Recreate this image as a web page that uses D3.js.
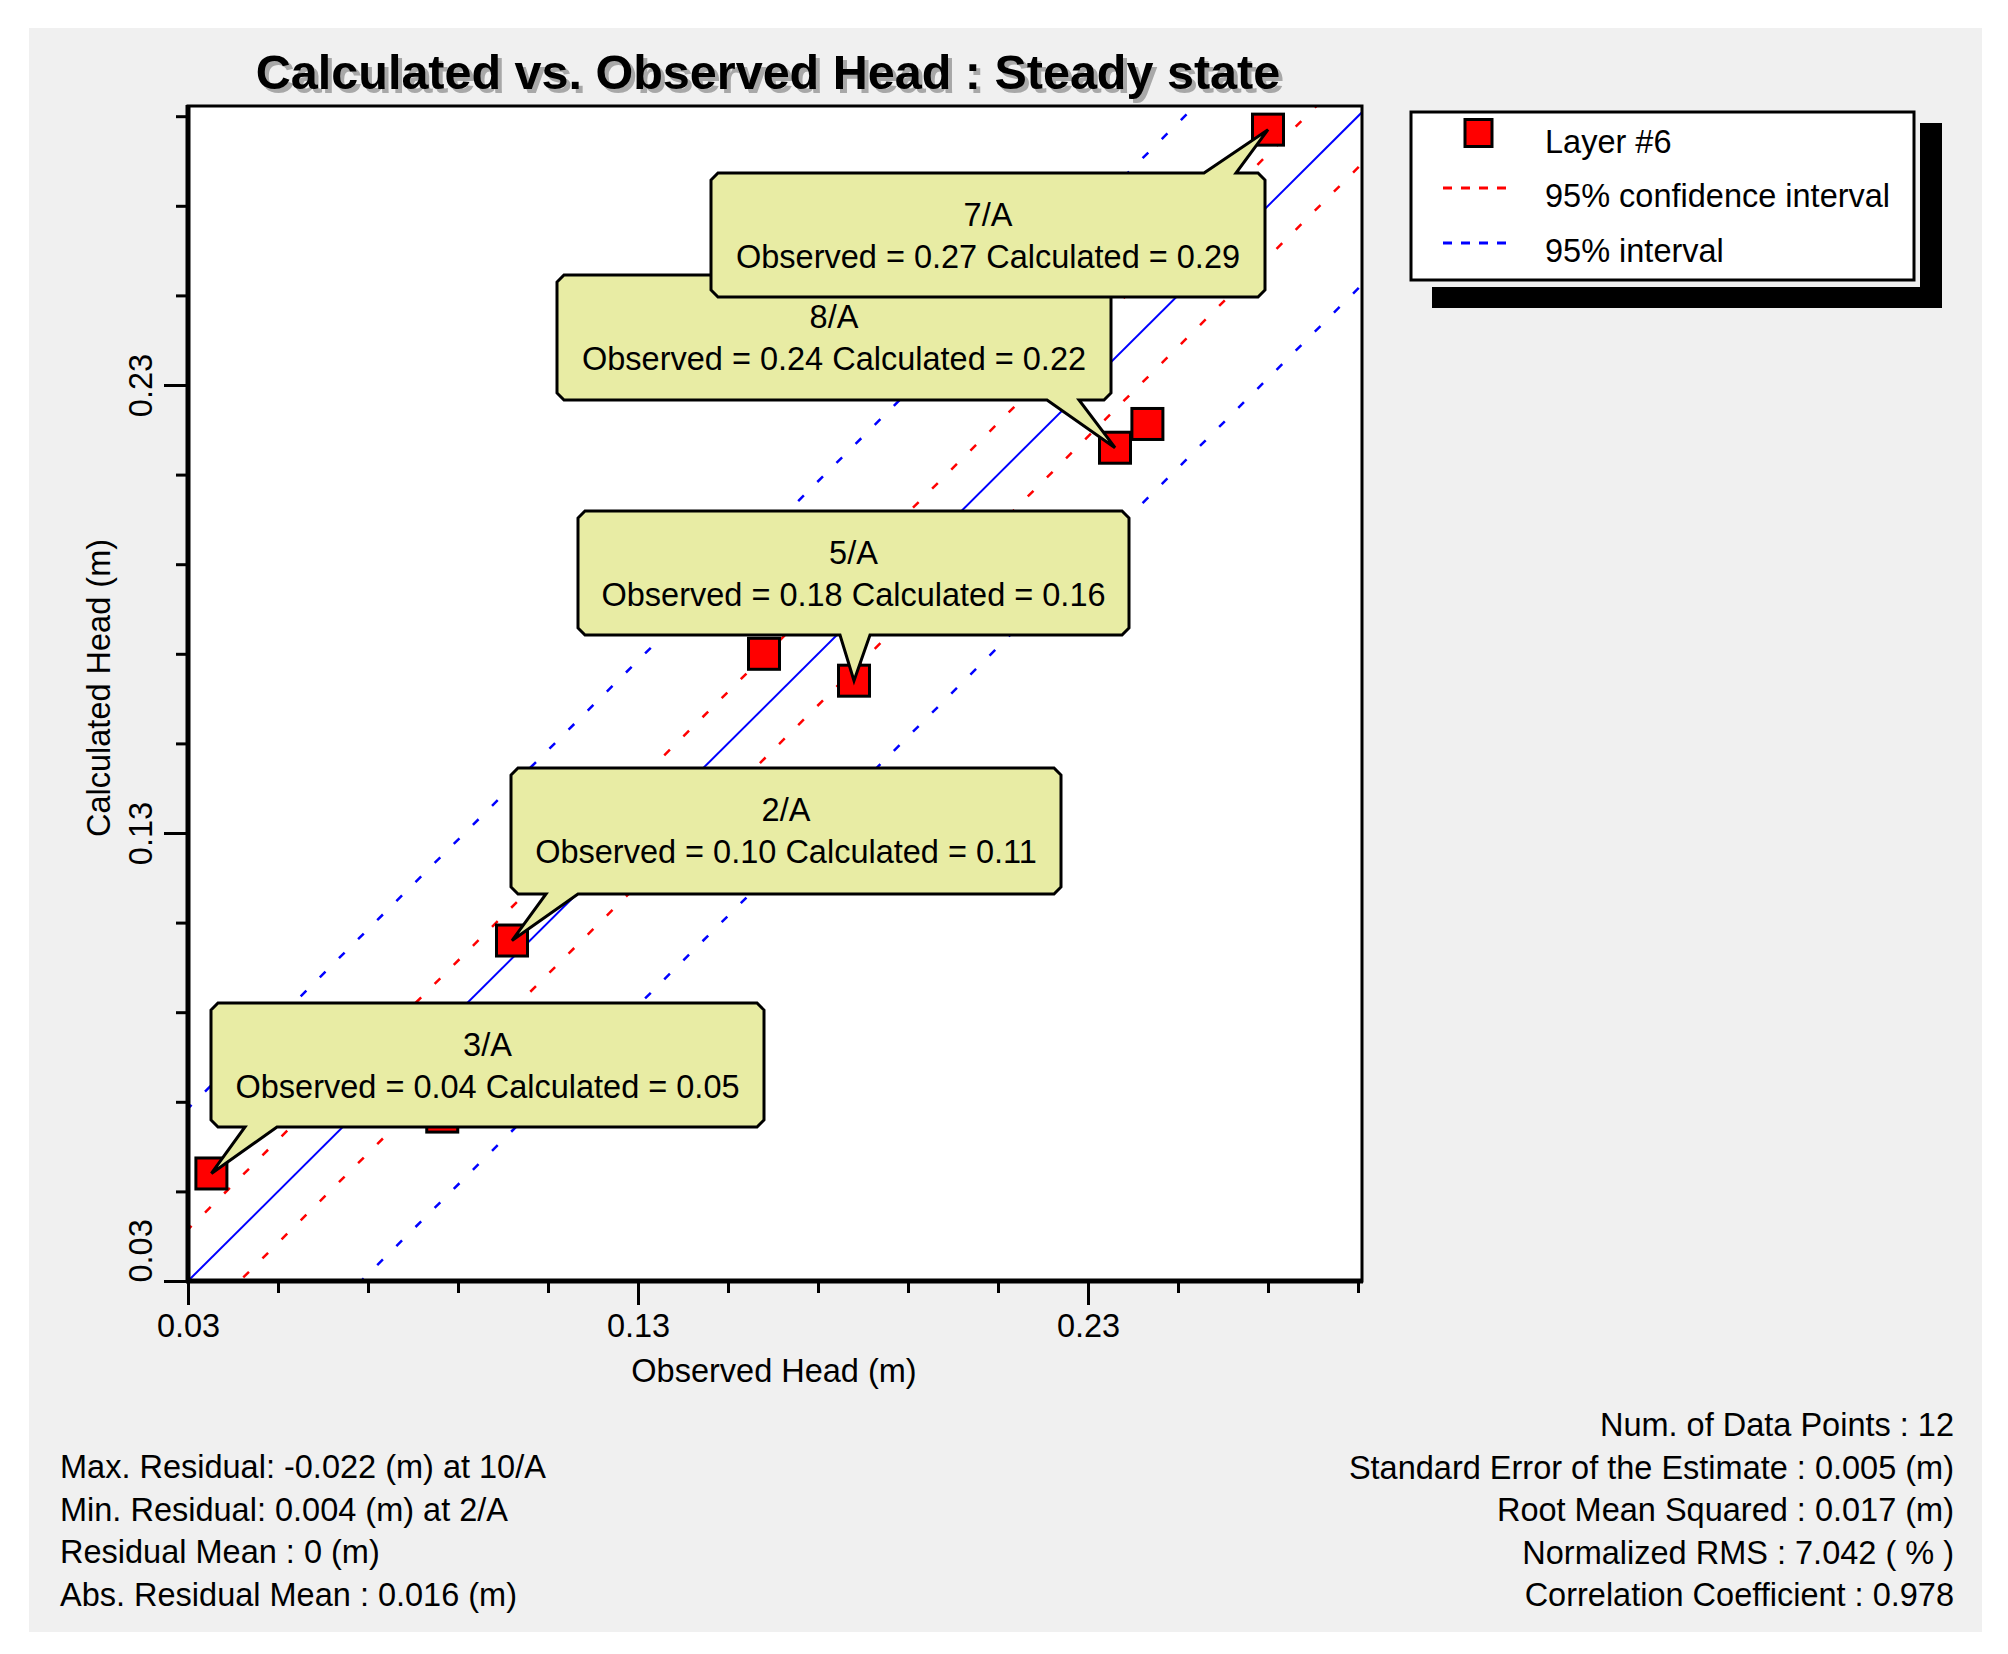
<!DOCTYPE html>
<html><head><meta charset="utf-8">
<script src="https://cdn.jsdelivr.net/npm/d3@7"></script>
<style>
body{margin:0;background:#fff;}
svg text{font-family:"Liberation Sans",Arial,sans-serif;fill:#000;}
</style>
</head><body>
<svg id="chart" width="2008" height="1654"></svg>
<script>
// ---------------- data ----------------
const chartTitle = "Calculated vs. Observed Head : Steady state";
const xAxisTitle = "Observed Head (m)";
const yAxisTitle = "Calculated Head (m)";
const seriesName = "Layer #6";
const pointIds   = ["3/A", "", "2/A", "", "5/A", "8/A", "", "7/A"];
const observed   = [0.0352, 0.0865, 0.102, 0.158, 0.178, 0.236, 0.2432, 0.270];
const calculated = [0.054, 0.0667, 0.106, 0.170, 0.164, 0.216, 0.2213, 0.287];
const tickValues = [0.03, 0.05, 0.07, 0.09, 0.11, 0.13, 0.15, 0.17, 0.19, 0.21, 0.23, 0.25, 0.27, 0.29];
const labeledTicks = [0.03, 0.13, 0.23];
const confidenceHalfWidth = 0.0115;
const intervalHalfWidth = 0.0385;
const legendLabels = ["Layer #6", "95% confidence interval", "95% interval"];
const statsLeft = [
  "Max. Residual: -0.022 (m) at 10/A",
  "Min. Residual: 0.004 (m) at 2/A",
  "Residual Mean : 0 (m)",
  "Abs. Residual Mean : 0.016 (m)"
];
const statsRight = [
  "Num. of Data Points : 12",
  "Standard Error of the Estimate : 0.005 (m)",
  "Root Mean Squared : 0.017 (m)",
  "Normalized RMS : 7.042 ( % )",
  "Correlation Coefficient : 0.978"
];
// callout layout (pixels) keyed by point id
const calloutLayout = {
  "3/A": {x:211, y:1003, w:553, h:124, side:"bottom", t0:34, t1:66},
  "2/A": {x:511, y:768,  w:550, h:126, side:"bottom", t0:35, t1:67},
  "5/A": {x:578, y:511,  w:551, h:124, side:"bottom", t0:262, t1:292},
  "8/A": {x:557, y:275,  w:554, h:125, side:"bottom", t0:490, t1:522},
  "7/A": {x:711, y:173,  w:554, h:124, side:"top",    t0:493, t1:525}
};

// ---------------- layout ----------------
const FS = "32.5px";
const svg = d3.select("#chart");
const P = {left:188, right:1362, top:106, bottom:1281};
const x = d3.scaleLinear().domain([0.03, 0.03 + (P.right-P.left)/4500]).range([P.left, P.right]);
const y = d3.scaleLinear().domain([0.03, 0.03 + (P.bottom-P.top)/4480]).range([P.bottom, P.top]);

// gray panel
svg.append("rect").attr("x",29).attr("y",28).attr("width",1953).attr("height",1604).attr("fill","#f0f0f0");

// title with shadow
const tg = svg.append("g");
tg.append("text").attr("x",772).attr("y",93).attr("text-anchor","middle")
  .style("font-size","48.5px").style("font-weight","bold").style("fill","#a8a8a8").text(chartTitle);
tg.append("text").attr("x",768).attr("y",89).attr("text-anchor","middle")
  .style("font-size","48.5px").style("font-weight","bold").text(chartTitle);

// plot area
svg.append("rect").attr("x",P.left).attr("y",P.top).attr("width",P.right-P.left).attr("height",P.bottom-P.top)
  .attr("fill","#fff");

const clip = svg.append("clipPath").attr("id","clip").append("rect")
  .attr("x",P.left).attr("y",P.top).attr("width",P.right-P.left).attr("height",P.bottom-P.top);
const plot = svg.append("g").attr("clip-path","url(#clip)");

const d0 = x.domain()[0], d1 = Math.max(x.domain()[1], y.domain()[1]) + 0.06;
const lineGen = d3.line().x(d=>x(d[0])).y(d=>y(d[1]));
function diag(offset){ return [[d0-0.06, d0-0.06+offset],[d1, d1+offset]]; }
const lines = [
  {off:0, color:"#0000ff", dash:null, w:2},
  {off: confidenceHalfWidth, color:"#ff0000", dash:"8,19", w:2.5},
  {off:-confidenceHalfWidth, color:"#ff0000", dash:"8,19", w:2.5},
  {off: intervalHalfWidth, color:"#0000ff", dash:"8,19", w:2.5},
  {off:-intervalHalfWidth, color:"#0000ff", dash:"8,19", w:2.5}
];
plot.selectAll("path.diag").data(lines).join("path").attr("class","diag")
  .attr("d",d=>lineGen(diag(d.off))).attr("fill","none")
  .attr("stroke",d=>d.color).attr("stroke-width",d=>d.w).attr("stroke-dasharray",d=>d.dash);

// points
const pts = observed.map((o,i)=>({id:pointIds[i], obs:o, calc:calculated[i]}));
const MS = 31;
svg.append("g").selectAll("rect").data(pts).join("rect")
  .attr("x",d=>x(d.obs)-MS/2).attr("y",d=>y(d.calc)-MS/2).attr("width",MS).attr("height",MS)
  .attr("fill","#ff0000").attr("stroke","#000").attr("stroke-width",3);

// frame
svg.append("rect").attr("x",P.left).attr("y",P.top).attr("width",P.right-P.left).attr("height",P.bottom-P.top)
  .attr("fill","none").attr("stroke","#000").attr("stroke-width",3);

// axes
const fmt = v => labeledTicks.some(t=>Math.abs(t-v)<1e-9) ? d3.format(".2f")(v) : "";
const isMajor = v => labeledTicks.some(t=>Math.abs(t-v)<1e-9);
const xAxis = svg.append("g").attr("transform",`translate(0,${P.bottom})`)
  .call(d3.axisBottom(x).tickValues(tickValues).tickFormat(fmt).tickSizeOuter(0));
xAxis.select(".domain").attr("stroke","#000").attr("stroke-width",5).attr("d",`M${P.left-2},0H${P.right+1}`);
xAxis.selectAll(".tick line").attr("stroke","#000").attr("stroke-width",3).attr("y2",d=>isMajor(d)?24:12);
xAxis.selectAll(".tick text").attr("y",56).attr("dy",null).style("font-size",FS).attr("fill","#000");

const yAxis = svg.append("g").attr("transform",`translate(${P.left},0)`)
  .call(d3.axisLeft(y).tickValues(tickValues).tickFormat(fmt).tickSizeOuter(0));
yAxis.select(".domain").attr("stroke","#000").attr("stroke-width",5).attr("d",`M0,${P.top-1}V${P.bottom+2}`);
yAxis.selectAll(".tick line").attr("stroke","#000").attr("stroke-width",3).attr("x2",d=>isMajor(d)?-24:-12);
yAxis.selectAll(".tick text").attr("x",d=> d===y.domain()[0] ? -1 : 0).attr("y",-36).attr("dy",null)
  .attr("transform","rotate(-90)").attr("text-anchor",d=> d===y.domain()[0] ? "start" : "middle")
  .style("font-size",FS).attr("fill","#000");
svg.selectAll(".tick text").style("font-family",'"Liberation Sans",Arial,sans-serif');

// axis titles
svg.append("text").attr("x",774).attr("y",1382).attr("text-anchor","middle").style("font-size",FS).text(xAxisTitle);
svg.append("text").attr("transform","translate(110,688) rotate(-90)").attr("text-anchor","middle")
  .style("font-size",FS).text(yAxisTitle);

// callouts
const C = 7;
const byId = Object.fromEntries(pts.filter(p=>p.id).map(p=>[p.id,p]));
const order = ["3/A","2/A","5/A","8/A","7/A"];
const cg = svg.append("g");
order.forEach(id=>{
  const L = calloutLayout[id], p = byId[id];
  const tx = x(p.obs), ty = y(p.calc);
  const {x:bx, y:by, w, h} = L;
  let path;
  if (L.side === "bottom") {
    path = `M${bx+C},${by}H${bx+w-C}L${bx+w},${by+C}V${by+h-C}L${bx+w-C},${by+h}H${bx+L.t1}L${tx},${ty}L${bx+L.t0},${by+h}H${bx+C}L${bx},${by+h-C}V${by+C}Z`;
  } else {
    path = `M${bx+C},${by}H${bx+L.t0}L${tx},${ty}L${bx+L.t1},${by}H${bx+w-C}L${bx+w},${by+C}V${by+h-C}L${bx+w-C},${by+h}H${bx+C}L${bx},${by+h-C}V${by+C}Z`;
  }
  const g = cg.append("g");
  g.append("path").attr("d",path).attr("fill","#e8eca4").attr("stroke","#000").attr("stroke-width",3).attr("stroke-linejoin","miter");
  g.append("text").attr("x",bx+w/2).attr("y",by+53).attr("text-anchor","middle").style("font-size",FS).text(p.id);
  g.append("text").attr("x",bx+w/2).attr("y",by+95).attr("text-anchor","middle").style("font-size",FS)
    .text(`Observed = ${p.obs.toFixed(2)} Calculated = ${p.calc.toFixed(2)}`);
});

// legend
const lg = svg.append("g");
lg.append("rect").attr("x",1920).attr("y",123).attr("width",22).attr("height",185).attr("fill","#000");
lg.append("rect").attr("x",1432).attr("y",287).attr("width",510).attr("height",21).attr("fill","#000");
lg.append("rect").attr("x",1411).attr("y",112).attr("width",503).attr("height",168)
  .attr("fill","#fff").attr("stroke","#000").attr("stroke-width",3);
const legendY = [133, 188, 243];
lg.append("rect").attr("x",1465).attr("y",legendY[0]-13.5).attr("width",27).attr("height",27)
  .attr("fill","#ff0000").attr("stroke","#000").attr("stroke-width",3);
lg.append("line").attr("x1",1443).attr("x2",1507).attr("y1",legendY[1]).attr("y2",legendY[1])
  .attr("stroke","#ff0000").attr("stroke-width",3).attr("stroke-dasharray","9,9");
lg.append("line").attr("x1",1443).attr("x2",1507).attr("y1",legendY[2]).attr("y2",legendY[2])
  .attr("stroke","#0000ff").attr("stroke-width",3).attr("stroke-dasharray","9,9");
lg.selectAll("text.leg").data(legendLabels).join("text").attr("class","leg")
  .attr("x",1545).attr("y",(d,i)=>[153,207,262][i]).style("font-size",FS).text(d=>d);

// statistics
svg.append("g").selectAll("text").data(statsLeft).join("text")
  .attr("x",60).attr("y",(d,i)=>1478+i*42.7).style("font-size",FS).text(d=>d);
svg.append("g").selectAll("text").data(statsRight).join("text")
  .attr("x",1954).attr("y",(d,i)=>1436+i*42.5).attr("text-anchor","end").style("font-size",FS).text(d=>d);
</script>
</body></html>
